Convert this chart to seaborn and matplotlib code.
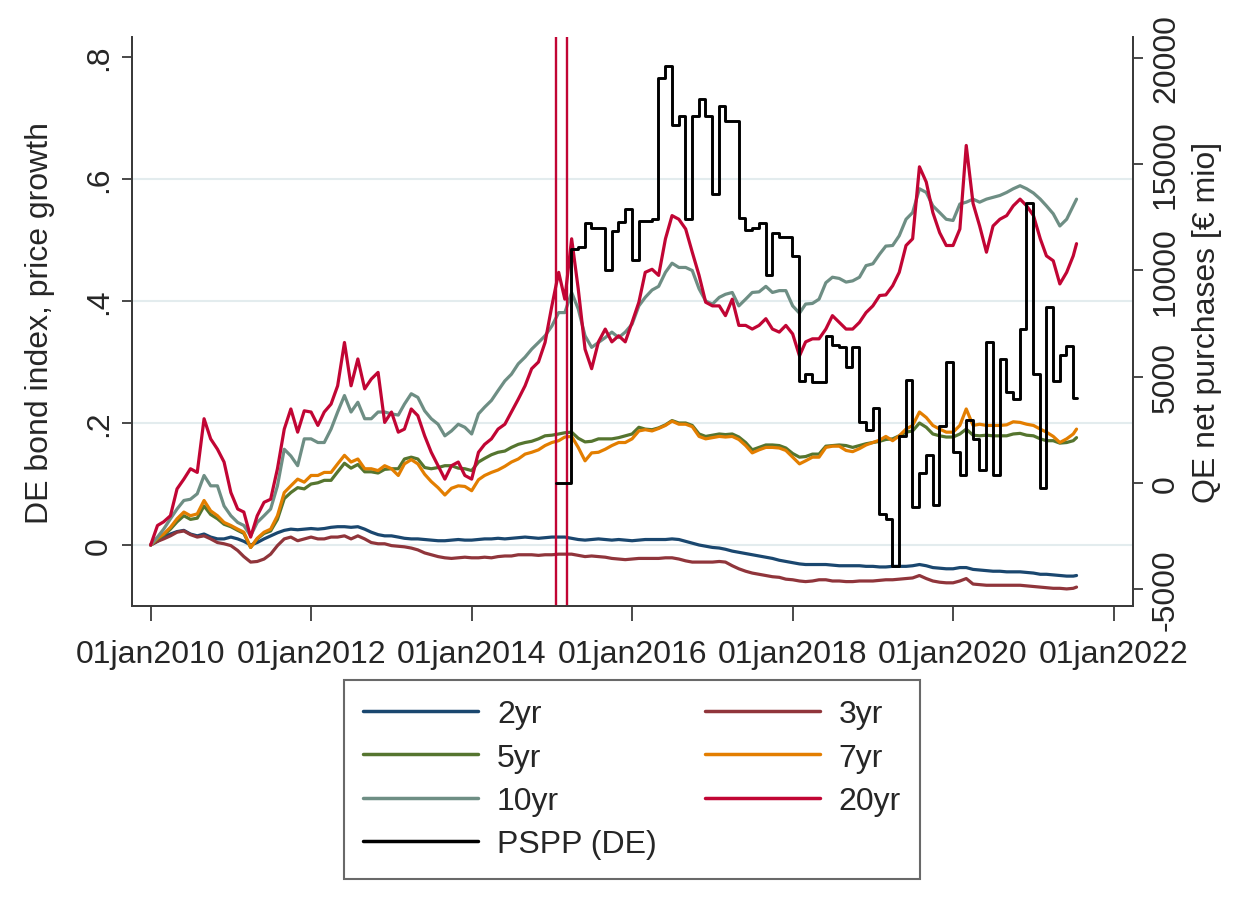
import matplotlib
matplotlib.use("Agg")
import matplotlib.pyplot as plt
import numpy as np
import pandas as pd
import seaborn as sns

# ---------------- data ----------------
MONTHS = pd.date_range("2010-01-01", "2021-07-01", freq="MS")
DATES = MONTHS.append(pd.DatetimeIndex(["2021-07-16"]))

Y2 = [0.000, 0.006, 0.013, 0.018, 0.022, 0.024, 0.018, 0.015, 0.018, 0.013,
      0.010, 0.010, 0.013, 0.010, 0.006, 0.000, 0.004, 0.010, 0.015, 0.020,
      0.024, 0.026, 0.025, 0.026, 0.027, 0.026, 0.027, 0.029, 0.030, 0.030,
      0.029, 0.030, 0.026, 0.021, 0.017, 0.015,
      0.015, 0.013, 0.011, 0.010, 0.010, 0.009, 0.008, 0.007, 0.007, 0.008,
      0.009, 0.008, 0.008, 0.009, 0.010, 0.010, 0.011, 0.010, 0.011, 0.012,
      0.013, 0.012, 0.011, 0.012, 0.013, 0.013, 0.013, 0.011, 0.009, 0.008,
      0.009, 0.010, 0.009, 0.008, 0.009, 0.008, 0.007, 0.008,
      0.009, 0.009, 0.009, 0.009, 0.010, 0.009, 0.006, 0.003, 0.000, -0.002,
      -0.004, -0.005, -0.007, -0.010, -0.012, -0.014, -0.016, -0.018, -0.020, -0.022,
      -0.025, -0.027, -0.029, -0.031, -0.032, -0.032, -0.032, -0.032, -0.033, -0.034,
      -0.034, -0.034, -0.034, -0.035, -0.035, -0.036, -0.036,
      -0.035, -0.035, -0.035, -0.034, -0.032, -0.034, -0.037, -0.038, -0.039, -0.039,
      -0.037, -0.037, -0.040, -0.041, -0.042, -0.043, -0.043, -0.044, -0.044, -0.044,
      -0.045, -0.046, -0.048, -0.048, -0.049, -0.050, -0.051, -0.051, -0.050]

Y3 = [0.000, 0.006, 0.010, 0.015, 0.021, 0.023, 0.017, 0.013, 0.015, 0.010,
      0.004, 0.002, -0.001, -0.009, -0.019, -0.028, -0.027, -0.023, -0.015, -0.001,
      0.010, 0.013, 0.007, 0.010, 0.013, 0.010, 0.010, 0.013, 0.013, 0.015,
      0.010, 0.015, 0.010, 0.004, 0.002, 0.002,
      -0.001, -0.002, -0.003, -0.005, -0.008, -0.013, -0.016, -0.019, -0.021, -0.022,
      -0.021, -0.020, -0.021, -0.021, -0.020, -0.021, -0.019, -0.018, -0.018, -0.016,
      -0.016, -0.016, -0.017, -0.016, -0.016, -0.015, -0.015, -0.015, -0.017, -0.019,
      -0.018, -0.019, -0.020, -0.022, -0.023, -0.024, -0.023, -0.022,
      -0.022, -0.022, -0.022, -0.021, -0.021, -0.023, -0.026, -0.028, -0.028, -0.028,
      -0.028, -0.027, -0.028, -0.034, -0.039, -0.043, -0.046, -0.048, -0.050, -0.052,
      -0.053, -0.056, -0.057, -0.059, -0.060, -0.059, -0.057, -0.057, -0.059, -0.059,
      -0.060, -0.060, -0.059, -0.059, -0.059, -0.058, -0.057,
      -0.057, -0.056, -0.055, -0.054, -0.050, -0.055, -0.059, -0.061, -0.062, -0.062,
      -0.059, -0.055, -0.064, -0.065, -0.066, -0.066, -0.066, -0.066, -0.066, -0.066,
      -0.067, -0.068, -0.069, -0.070, -0.071, -0.071, -0.072, -0.071, -0.069]

Y5 = [0.000, 0.010, 0.016, 0.026, 0.038, 0.048, 0.042, 0.044, 0.064, 0.050,
      0.043, 0.034, 0.030, 0.024, 0.019, -0.004, 0.010, 0.019, 0.023, 0.042,
      0.076, 0.086, 0.094, 0.092, 0.100, 0.102, 0.106, 0.106, 0.120, 0.134,
      0.126, 0.132, 0.120, 0.120, 0.118, 0.124, 0.125, 0.125, 0.141, 0.144,
      0.141, 0.127, 0.125, 0.127, 0.130, 0.130, 0.126, 0.125, 0.122, 0.136,
      0.142, 0.148, 0.152, 0.154, 0.160, 0.165, 0.168, 0.170, 0.174, 0.179,
      0.180, 0.182, 0.184, 0.185, 0.175, 0.169, 0.170, 0.174, 0.174, 0.174,
      0.176, 0.179, 0.182, 0.193, 0.190, 0.189, 0.192, 0.197, 0.204, 0.200,
      0.200, 0.196, 0.182, 0.178, 0.180, 0.182, 0.181, 0.182, 0.177, 0.168,
      0.156, 0.160, 0.164, 0.164, 0.163, 0.159, 0.150, 0.144, 0.145, 0.149,
      0.149, 0.162, 0.163, 0.164, 0.163, 0.160, 0.163, 0.166, 0.168, 0.170,
      0.173, 0.174, 0.179, 0.185, 0.187, 0.200, 0.193, 0.182, 0.179, 0.177,
      0.177, 0.182, 0.190, 0.180, 0.179, 0.180, 0.179, 0.179, 0.179, 0.182,
      0.183, 0.180, 0.179, 0.174, 0.171, 0.171, 0.167, 0.168, 0.171, 0.176]

Y7 = [0.000, 0.011, 0.018, 0.029, 0.043, 0.054, 0.048, 0.051, 0.073, 0.056,
      0.048, 0.037, 0.032, 0.026, 0.021, -0.004, 0.011, 0.021, 0.026, 0.048,
      0.086, 0.097, 0.108, 0.103, 0.114, 0.114, 0.119, 0.119, 0.133, 0.147,
      0.136, 0.141, 0.125, 0.125, 0.122, 0.130, 0.125, 0.114, 0.133, 0.140,
      0.133, 0.116, 0.104, 0.094, 0.082, 0.093, 0.097, 0.096, 0.089, 0.107,
      0.114, 0.119, 0.123, 0.129, 0.136, 0.141, 0.149, 0.152, 0.156, 0.163,
      0.168, 0.171, 0.177, 0.178, 0.160, 0.138, 0.151, 0.152, 0.157, 0.163,
      0.168, 0.168, 0.174, 0.187, 0.189, 0.187, 0.191, 0.196, 0.203, 0.198,
      0.198, 0.194, 0.178, 0.174, 0.176, 0.178, 0.177, 0.178, 0.173, 0.163,
      0.151, 0.156, 0.160, 0.160, 0.159, 0.155, 0.144, 0.133, 0.138, 0.144,
      0.144, 0.160, 0.162, 0.162, 0.155, 0.153, 0.158, 0.164, 0.168, 0.172,
      0.178, 0.171, 0.179, 0.190, 0.196, 0.218, 0.209, 0.196, 0.190, 0.185,
      0.185, 0.196, 0.223, 0.196, 0.198, 0.196, 0.196, 0.196, 0.197, 0.202,
      0.201, 0.198, 0.196, 0.190, 0.185, 0.178, 0.168, 0.174, 0.182, 0.190]

Y10 = [0.000, 0.013, 0.026, 0.043, 0.059, 0.073, 0.075, 0.084, 0.114, 0.097,
       0.097, 0.064, 0.048, 0.037, 0.032, 0.015, 0.037, 0.048, 0.059, 0.097,
       0.157, 0.146, 0.130, 0.174, 0.174, 0.168, 0.168, 0.190, 0.218, 0.245,
       0.218, 0.234, 0.207, 0.207, 0.218, 0.218, 0.215, 0.213, 0.231, 0.248,
       0.242, 0.220, 0.207, 0.198, 0.179, 0.187, 0.198, 0.193, 0.182, 0.215,
       0.226, 0.237, 0.253, 0.269, 0.280, 0.297, 0.308, 0.321, 0.332, 0.343,
       0.359, 0.381, 0.381, 0.414, 0.387, 0.343, 0.324, 0.332, 0.340, 0.349,
       0.340, 0.349, 0.362, 0.392, 0.406, 0.418, 0.424, 0.447, 0.462, 0.455,
       0.455, 0.450, 0.420, 0.400, 0.395, 0.406, 0.411, 0.414, 0.392, 0.403,
       0.414, 0.415, 0.424, 0.414, 0.417, 0.417, 0.392, 0.380, 0.395, 0.396,
       0.403, 0.430, 0.439, 0.437, 0.431, 0.433, 0.439, 0.458, 0.461, 0.477,
       0.490, 0.491, 0.507, 0.534, 0.545, 0.584, 0.578, 0.556, 0.545, 0.534,
       0.532, 0.559, 0.562, 0.567, 0.562, 0.567, 0.570, 0.573, 0.578, 0.584,
       0.589, 0.584, 0.577, 0.567, 0.556, 0.543, 0.523, 0.534, 0.556, 0.567]

Y20 = [0.000, 0.032, 0.038, 0.048, 0.092, 0.108, 0.125, 0.119, 0.207, 0.174,
       0.157, 0.136, 0.086, 0.059, 0.054, 0.013, 0.048, 0.070, 0.075, 0.125,
       0.190, 0.223, 0.185, 0.220, 0.218, 0.196, 0.218, 0.231, 0.261, 0.332,
       0.261, 0.305, 0.256, 0.272, 0.283, 0.201, 0.218, 0.185, 0.190, 0.223,
       0.212, 0.179, 0.152, 0.130, 0.108, 0.130, 0.136, 0.114, 0.108, 0.152,
       0.165, 0.174, 0.190, 0.198, 0.218, 0.239, 0.261, 0.289, 0.300, 0.332,
       0.392, 0.447, 0.403, 0.502, 0.420, 0.321, 0.289, 0.333, 0.354, 0.333,
       0.343, 0.333, 0.365, 0.398, 0.447, 0.452, 0.442, 0.502, 0.540, 0.534,
       0.518, 0.480, 0.442, 0.398, 0.392, 0.392, 0.376, 0.403, 0.360, 0.360,
       0.354, 0.360, 0.371, 0.354, 0.349, 0.360, 0.346, 0.310, 0.333, 0.338,
       0.338, 0.354, 0.376, 0.365, 0.354, 0.354, 0.365, 0.381, 0.392, 0.409,
       0.410, 0.425, 0.447, 0.491, 0.502, 0.620, 0.595, 0.545, 0.512, 0.491,
       0.491, 0.518, 0.655, 0.560, 0.523, 0.480, 0.523, 0.534, 0.540, 0.556,
       0.567, 0.556, 0.540, 0.502, 0.474, 0.466, 0.428, 0.447, 0.474, 0.494]

# PSPP net purchases (EUR mio), monthly, plotted as a stair line
PSPP_DATES = (pd.DatetimeIndex(["2015-01-22"])
              .append(pd.date_range("2015-04-01", "2021-07-01", freq="MS") - pd.Timedelta(days=1))
              .append(pd.DatetimeIndex(["2021-07-16"])))
PSPP = [0,
        11000, 11100, 12230, 12000, 12000, 10020, 11870, 12280, 12890, 10490,
        12340, 12340, 12420, 19040, 19600, 16860, 17280, 12420, 17250, 18060,
        17280, 13590, 17720, 17040, 17040, 12470, 11900, 11980, 12230, 9800,
        11750, 11590, 11590, 10660, 4810, 5130, 4740, 4740, 6930, 6490,
        6380, 5440, 6380, 2880, 2510, 3510, -1460, -1690, -3920, 2230,
        4860, -1110, 470, 1320, -1030, 2670, 5680, 1470, 390, 2980,
        2070, 630, 6620, 390, 5830, 4300, 3950, 7240, 13170, 5130,
        -250, 8260, 4810, 6020, 6460, 3980,
        3980]

EVENT_DATES = pd.to_datetime(["2015-01-22", "2015-03-09"])

SERIES = ["2yr", "3yr", "5yr", "7yr", "10yr", "20yr"]
VALUES = [Y2, Y3, Y5, Y7, Y10, Y20]
COLORS = ["#1a476f", "#90353b", "#55752f", "#e37e00", "#6e8e84", "#c10534"]

LEFT_TICKS = [0, 0.2, 0.4, 0.6, 0.8]
LEFT_LABELS = ["0", ".2", ".4", ".6", ".8"]
RIGHT_TICKS = [-5000, 0, 5000, 10000, 15000, 20000]
RIGHT_LABELS = ["-5000", "0", "5000", "10000", "15000", "20000"]
XTICK_DATES = pd.date_range("2010-01-01", "2022-01-01", freq="2YS")

# ---------------- style ----------------
sns.set_style("white")
plt.rcParams["font.family"] = ["Liberation Sans", "DejaVu Sans"]
FS = 23

fig = plt.figure(figsize=(12.53, 9.12), dpi=100)
ax = fig.add_axes([132 / 1253, 1 - 607 / 912, (1133 - 132) / 1253, (607 - 38) / 912])

df = pd.DataFrame({"date": np.tile(DATES, len(SERIES)),
                   "value": np.concatenate(VALUES),
                   "series": np.repeat(SERIES, len(DATES))})

for name, col in zip(SERIES, COLORS):
    sub = df[df["series"] == name]
    sns.lineplot(data=sub, x="date", y="value", color=col, lw=2.3,
                 label=name, ax=ax, legend=False, estimator=None)

for d in EVENT_DATES:
    ax.axvline(d, color="#c10534", lw=1.7, zorder=3)

ax2 = ax.twinx()
sns.lineplot(x=PSPP_DATES, y=PSPP, color="black", lw=2.1, drawstyle="steps-post",
             label="PSPP (DE)", ax=ax2, legend=False, estimator=None)

# ---------------- axes ----------------
ax.set_xlim(pd.Timestamp("2009-10-08"), pd.Timestamp("2022-03-30"))
ax.set_ylim(-0.1, 0.8328)
ax2.set_ylim(-5786, 20980)

ax.set_xticks(XTICK_DATES)
ax.set_xticklabels([d.strftime("%d%b%Y").lower() for d in XTICK_DATES], fontsize=FS)
ax.set_yticks(LEFT_TICKS)
ax.set_yticklabels(LEFT_LABELS, rotation=90, va="center", fontsize=FS)
ax2.set_yticks(RIGHT_TICKS)
ax2.set_yticklabels(RIGHT_LABELS, rotation=90, va="center", fontsize=FS)

ax.set_xlabel("")
ax.set_ylabel("DE bond index, price growth", fontsize=FS, labelpad=21)
ax2.set_ylabel("QE net purchases [€ mio]", fontsize=FS, labelpad=8)

ax.grid(axis="y", color="#e3ecee", lw=1.5)
ax.grid(axis="x", visible=False)
ax.yaxis.get_gridlines()[-1].set_visible(False)
ax.set_axisbelow(True)

spine_col = "#3a3a3a"
for a in (ax, ax2):
    a.spines["top"].set_visible(False)
    for s in ("left", "right", "bottom"):
        a.spines[s].set_color(spine_col)
        a.spines[s].set_linewidth(1.3)
ax.tick_params(axis="y", length=7, width=1.3, color=spine_col, pad=6, left=True)
ax.tick_params(axis="x", length=11, width=1.3, color=spine_col, pad=13, bottom=True)
ax2.tick_params(axis="y", length=7, width=1.3, color=spine_col, pad=6, right=True)

# ---------------- legend ----------------
h1, l1 = ax.get_legend_handles_labels()
h2, l2 = ax2.get_legend_handles_labels()
hmap = dict(zip(l1 + l2, h1 + h2))
order = ["2yr", "5yr", "10yr", "PSPP (DE)", "3yr", "7yr", "20yr"]
leg = fig.legend([hmap[k] for k in order], order, loc="upper center",
                 bbox_to_anchor=(632 / 1253, 1 - 681 / 912), ncol=2, fontsize=FS,
                 frameon=True, fancybox=False, handlelength=3.6, handletextpad=0.6,
                 columnspacing=1.5, labelspacing=0.42, borderpad=0.6,
                 borderaxespad=0)
leg.get_frame().set_edgecolor("#444444")
leg.get_frame().set_linewidth(1.5)
for line in leg.get_lines():
    line.set_linewidth(2.5)

fig.savefig("out.png", dpi=100)
